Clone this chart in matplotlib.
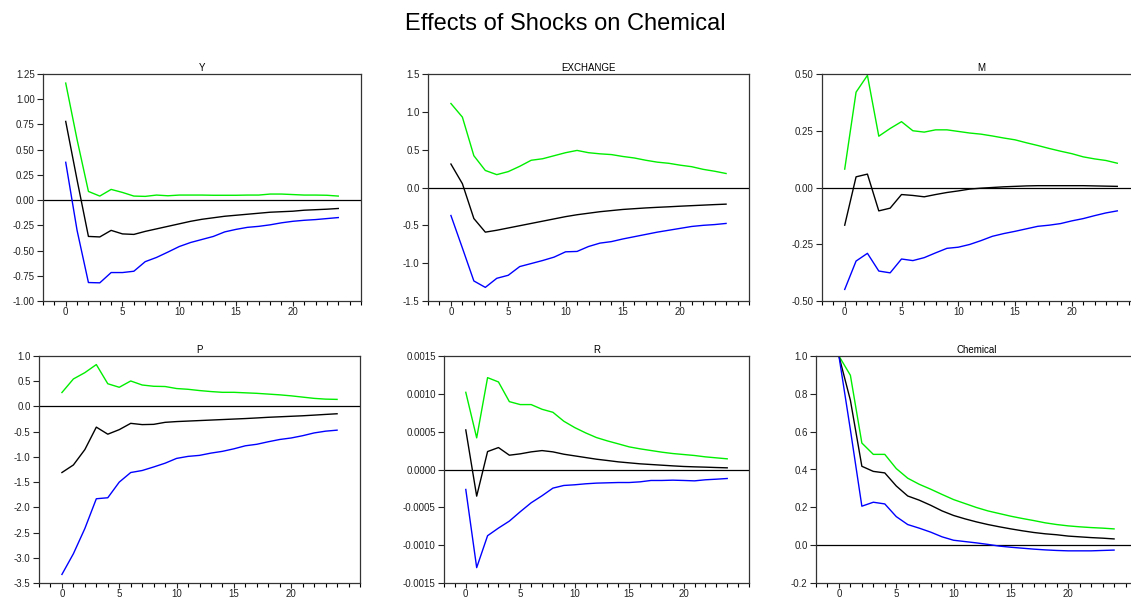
import matplotlib
matplotlib.use("Agg")
import matplotlib.pyplot as plt
from matplotlib.ticker import MultipleLocator, FormatStrFormatter

plt.rcParams['font.family'] = ['Liberation Sans', 'DejaVu Sans']

steps = list(range(25))

# impulse responses: (point estimate, upper band, lower band)
y_mid = [0.78, 0.2, -0.36, -0.365, -0.30, -0.335, -0.34, -0.31, -0.285, -0.26, -0.235, -0.21, -0.19,
         -0.175, -0.16, -0.15, -0.14, -0.13, -0.12, -0.115, -0.11, -0.10, -0.095, -0.09, -0.083]
y_up = [1.16, 0.6, 0.086, 0.04, 0.106, 0.076, 0.04, 0.037, 0.05, 0.043, 0.05, 0.05, 0.05,
        0.048, 0.048, 0.048, 0.05, 0.05, 0.06, 0.06, 0.055, 0.05, 0.05, 0.048, 0.04]
y_lo = [0.375, -0.3, -0.817, -0.82, -0.718, -0.718, -0.705, -0.61, -0.568, -0.515, -0.46, -0.42, -0.39,
        -0.36, -0.315, -0.29, -0.27, -0.26, -0.245, -0.225, -0.21, -0.2, -0.193, -0.183, -0.173]

ex_mid = [0.31, 0.05, -0.41, -0.59, -0.565, -0.535, -0.505, -0.475, -0.445, -0.415, -0.385, -0.36, -0.34,
          -0.32, -0.305, -0.29, -0.28, -0.27, -0.262, -0.255, -0.247, -0.24, -0.233, -0.226, -0.22]
ex_up = [1.11, 0.93, 0.42, 0.225, 0.17, 0.21, 0.28, 0.36, 0.38, 0.42, 0.46, 0.49, 0.46,
         0.445, 0.435, 0.41, 0.39, 0.36, 0.335, 0.32, 0.295, 0.275, 0.24, 0.215, 0.185]
ex_lo = [-0.37, -0.80, -1.235, -1.32, -1.2, -1.16, -1.045, -1.005, -0.965, -0.92, -0.85, -0.845, -0.78,
         -0.735, -0.715, -0.68, -0.65, -0.62, -0.59, -0.565, -0.54, -0.515, -0.50, -0.49, -0.475]

m_mid = [-0.166, 0.047, 0.059, -0.103, -0.091, -0.031, -0.035, -0.041, -0.031, -0.022, -0.015, -0.007, -0.003,
         0.0, 0.003, 0.005, 0.007, 0.008, 0.008, 0.008, 0.008, 0.008, 0.007, 0.006, 0.005]
m_up = [0.081, 0.42, 0.494, 0.226, 0.26, 0.29, 0.25, 0.244, 0.254, 0.254, 0.247, 0.24, 0.235,
        0.227, 0.218, 0.21, 0.197, 0.185, 0.172, 0.16, 0.149, 0.135, 0.126, 0.119, 0.107]
m_lo = [-0.449, -0.324, -0.29, -0.368, -0.376, -0.315, -0.322, -0.309, -0.288, -0.268, -0.263, -0.251, -0.234,
        -0.215, -0.203, -0.193, -0.182, -0.171, -0.166, -0.159, -0.147, -0.137, -0.124, -0.112, -0.103]

p_mid = [-1.31, -1.16, -0.855, -0.41, -0.55, -0.46, -0.335, -0.36, -0.355, -0.315, -0.30, -0.29, -0.28,
         -0.27, -0.26, -0.25, -0.24, -0.228, -0.215, -0.205, -0.195, -0.185, -0.172, -0.158, -0.145]
p_up = [0.276, 0.545, 0.67, 0.83, 0.45, 0.38, 0.505, 0.425, 0.40, 0.395, 0.355, 0.34, 0.315,
        0.295, 0.28, 0.28, 0.27, 0.26, 0.245, 0.23, 0.21, 0.185, 0.16, 0.145, 0.14]
p_lo = [-3.33, -2.92, -2.42, -1.83, -1.81, -1.50, -1.31, -1.27, -1.20, -1.125, -1.03, -0.99, -0.97,
        -0.925, -0.89, -0.84, -0.78, -0.75, -0.70, -0.655, -0.625, -0.58, -0.525, -0.49, -0.47]

r_mid = [5.23, -3.52, 2.37, 2.9, 1.89, 2.07, 2.33, 2.5, 2.33, 2.02, 1.80, 1.58, 1.36,
         1.19, 1.01, 0.88, 0.75, 0.66, 0.57, 0.48, 0.40, 0.35, 0.31, 0.26, 0.22]
r_up = [10.2, 4.18, 12.14, 11.57, 8.97, 8.58, 8.58, 7.96, 7.56, 6.38, 5.54, 4.84, 4.22,
        3.78, 3.39, 2.99, 2.73, 2.51, 2.29, 2.11, 1.98, 1.85, 1.67, 1.54, 1.41]
r_lo = [-2.64, -12.97, -8.75, -7.74, -6.82, -5.58, -4.40, -3.47, -2.46, -2.11, -2.02, -1.89, -1.80,
        -1.76, -1.72, -1.72, -1.63, -1.45, -1.45, -1.41, -1.45, -1.50, -1.36, -1.28, -1.19]
r_mid = [v * 1e-4 for v in r_mid]
r_up = [v * 1e-4 for v in r_up]
r_lo = [v * 1e-4 for v in r_lo]

c_mid = [1.0, 0.766, 0.417, 0.39, 0.382, 0.313, 0.26, 0.238, 0.211, 0.181, 0.157, 0.139, 0.123,
         0.109, 0.097, 0.086, 0.076, 0.067, 0.06, 0.055, 0.048, 0.044, 0.04, 0.037, 0.033]
c_up = [1.0, 0.898, 0.54, 0.48, 0.48, 0.405, 0.354, 0.322, 0.296, 0.268, 0.241, 0.22, 0.199,
        0.181, 0.167, 0.153, 0.141, 0.13, 0.118, 0.109, 0.102, 0.097, 0.093, 0.09, 0.086]
c_lo = [1.0, 0.61, 0.206, 0.227, 0.218, 0.151, 0.109, 0.09, 0.069, 0.044, 0.026, 0.019, 0.012,
        0.004, -0.005, -0.011, -0.016, -0.021, -0.025, -0.028, -0.03, -0.03, -0.03, -0.028, -0.026]

W, H = 1131, 599
panels = [
    # title, mid, up, lo, ylim, ystep, fmt, (left, right, top, bottom) in px
    ("Y", y_mid, y_up, y_lo, (-1.0, 1.25), 0.25, "%.2f", (43, 361, 74, 301)),
    ("EXCHANGE", ex_mid, ex_up, ex_lo, (-1.5, 1.5), 0.5, "%.1f", (428, 749, 74, 301)),
    ("M", m_mid, m_up, m_lo, (-0.5, 0.5), 0.25, "%.2f", (822, 1140, 74, 301)),
    ("P", p_mid, p_up, p_lo, (-3.5, 1.0), 0.5, "%.1f", (39, 360, 356, 583)),
    ("R", r_mid, r_up, r_lo, (-0.0015, 0.0015), 0.0005, "%.4f", (444, 749, 356, 583)),
    ("Chemical", c_mid, c_up, c_lo, (-0.2, 1.0), 0.2, "%.1f", (816, 1137, 356, 583)),
]

fig = plt.figure(figsize=(W / 100, H / 100), dpi=100)
fig.text(0.5, 1 - 24 / H, "Effects of Shocks on Chemical", ha="center", va="center", fontsize=17)

for title, mid, up, lo, ylim, ystep, fmt, (l, r, t, b) in panels:
    ax = fig.add_axes([l / W, 1 - b / H, (r - l) / W, (b - t) / H])
    ax.axhline(0, color="black", lw=0.9)
    ax.plot(steps, up, color="#00ee00", lw=1.0)
    ax.plot(steps, mid, color="black", lw=1.0)
    ax.plot(steps, lo, color="#0000ff", lw=1.0)
    ax.set_xlim(-2, 26)
    ax.set_ylim(*ylim)
    ax.xaxis.set_major_locator(MultipleLocator(5))
    ax.xaxis.set_minor_locator(MultipleLocator(1))
    ax.yaxis.set_major_locator(MultipleLocator(ystep))
    ax.yaxis.set_major_formatter(FormatStrFormatter(fmt))
    ax.set_xticks([0, 5, 10, 15, 20])
    ax.tick_params(axis="both", which="major", direction="out", length=4, width=0.8,
                   labelsize=7, colors="#222222", pad=2)
    ax.tick_params(axis="x", which="major", length=3.5, pad=0.5)
    ax.tick_params(axis="x", which="minor", direction="out", length=3, width=0.8)
    for s in ax.spines.values():
        s.set_linewidth(0.9)
        s.set_color("#333333")
    ax.set_title(title, fontsize=7, pad=2)

fig.savefig("out.png", dpi=100)
